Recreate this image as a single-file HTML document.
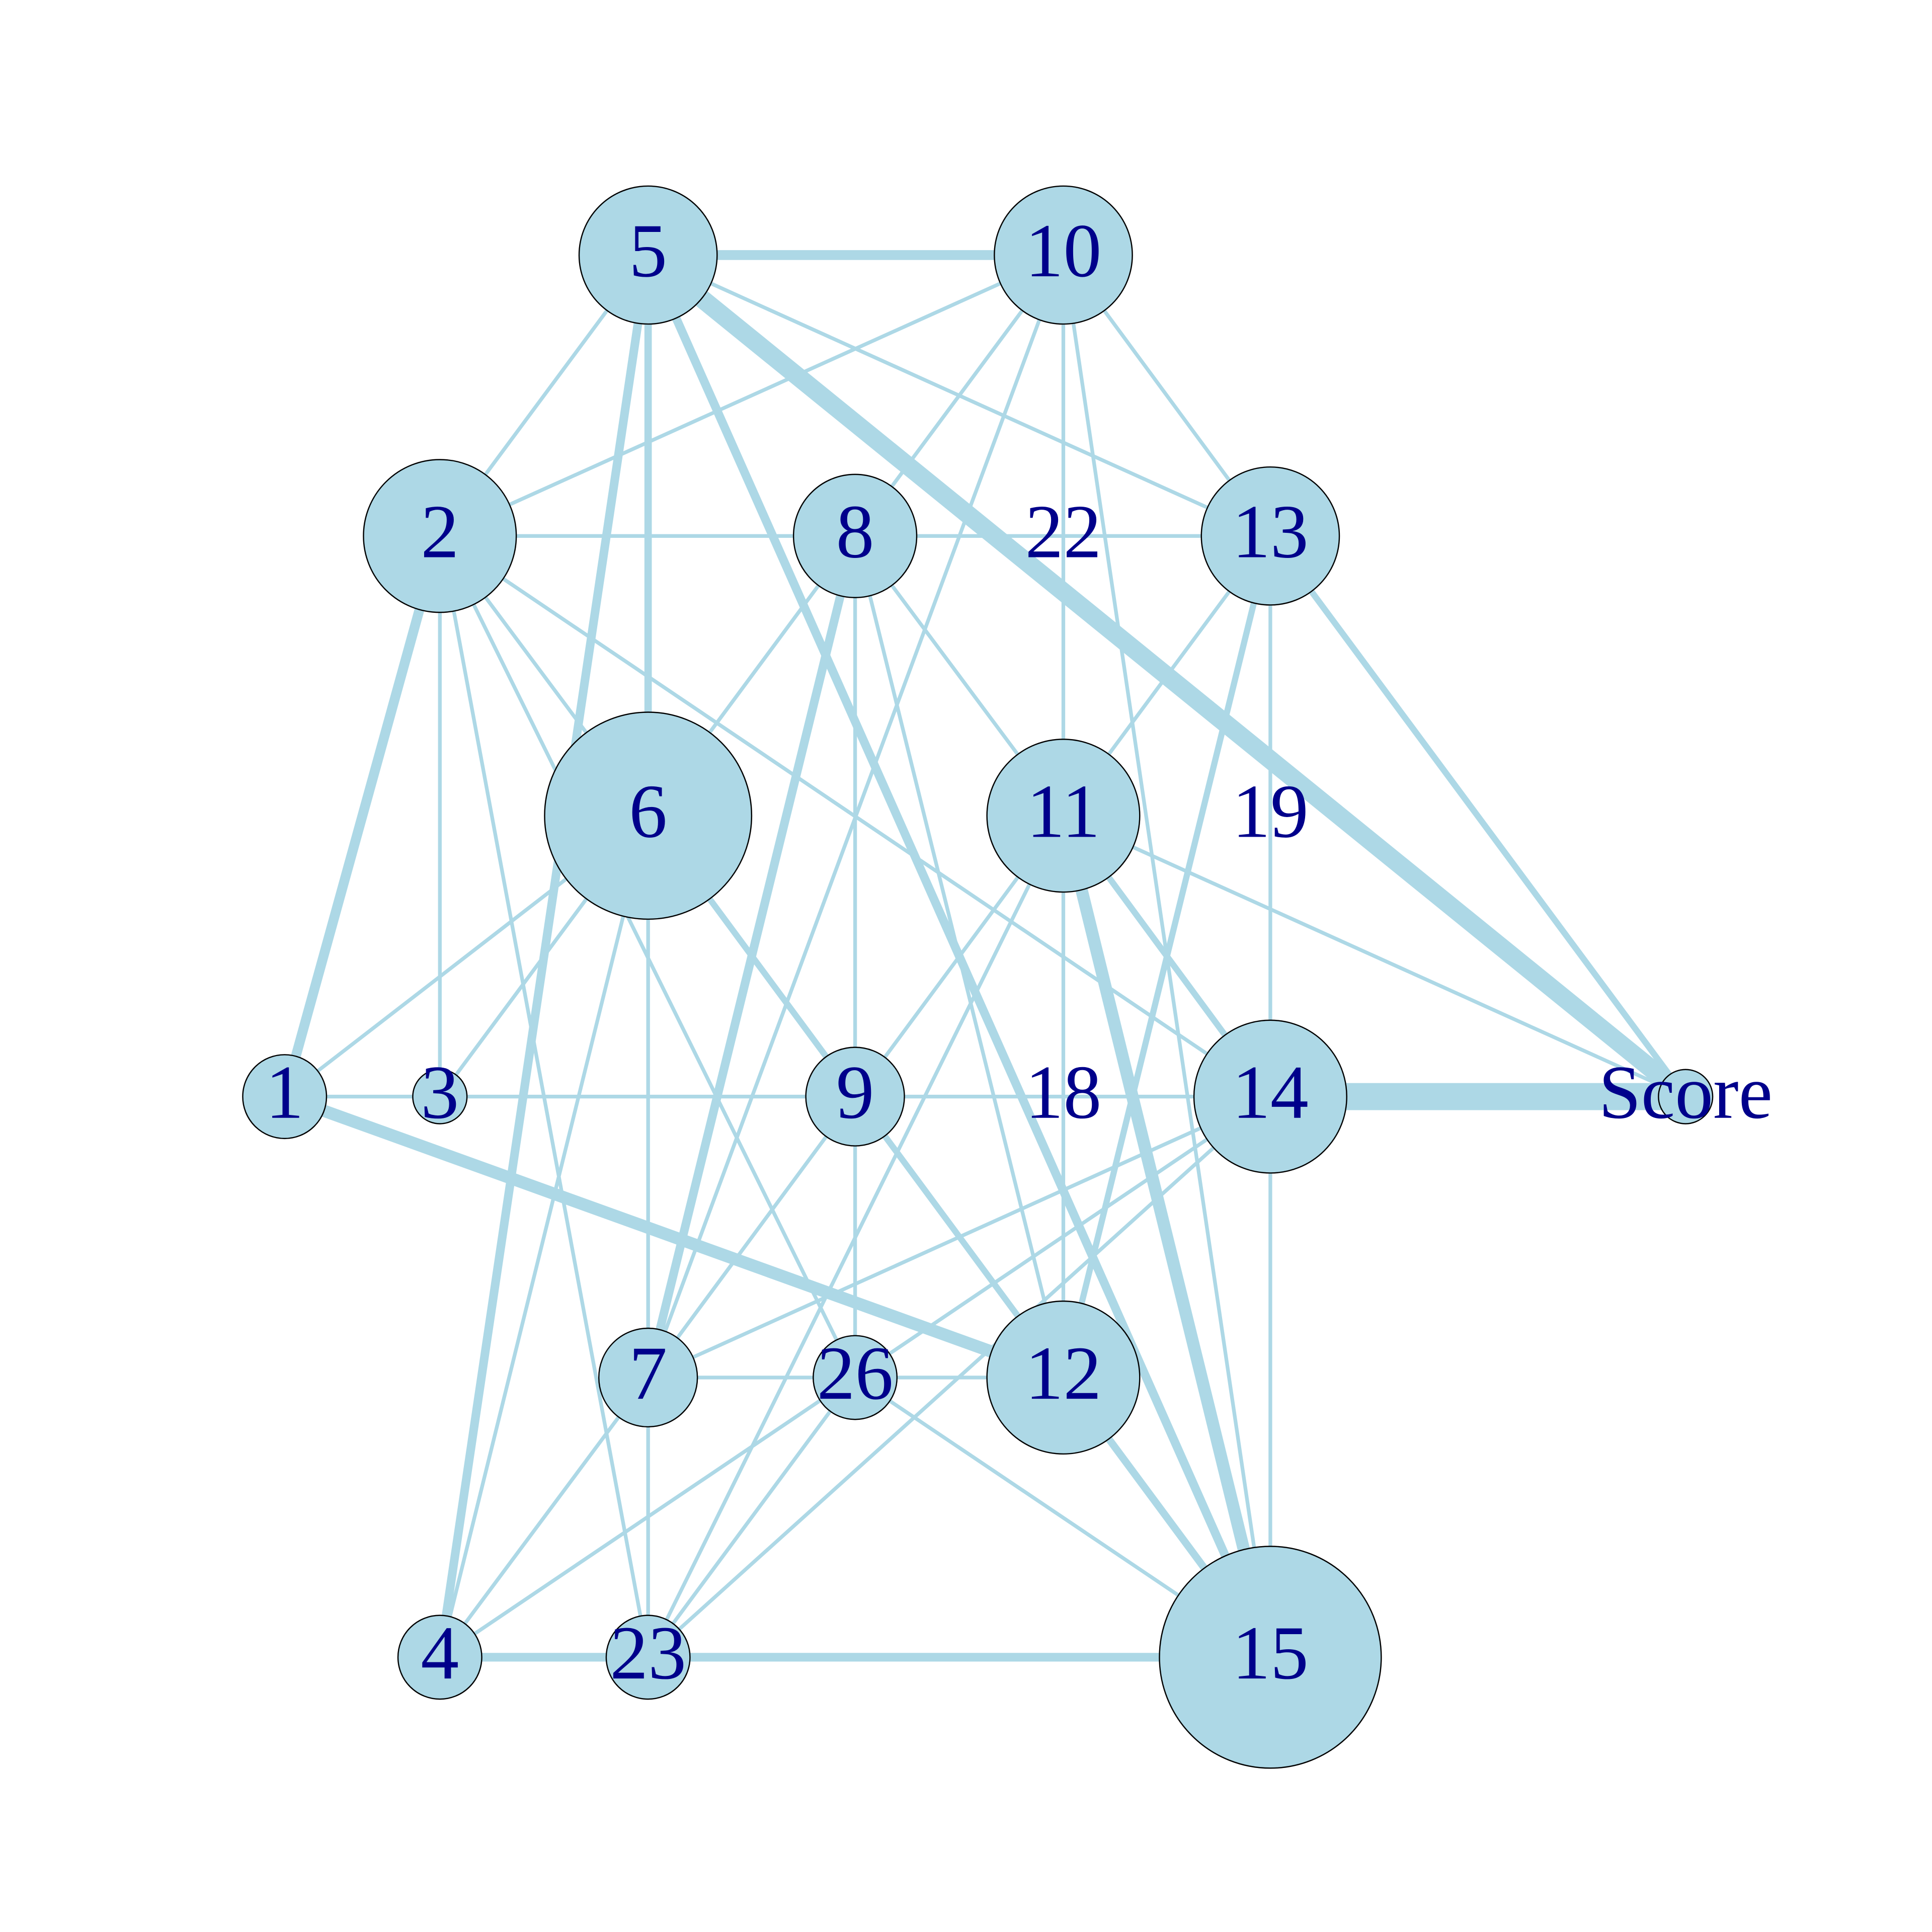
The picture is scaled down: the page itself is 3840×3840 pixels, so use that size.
<!DOCTYPE html>
<html><head><meta charset="utf-8"><style>
html,body{margin:0;padding:0;background:#fff;}
svg{display:block;}
text{font-family:"Liberation Serif",serif;fill:#00008B;text-anchor:middle;dominant-baseline:middle;}
</style></head><body>
<svg width="3840" height="3840" viewBox="0 0 1568 1568" xmlns="http://www.w3.org/2000/svg">
<g stroke="#ADD8E6" fill="none">
<line x1="526" y1="207" x2="863" y2="207" stroke-width="8"/>
<line x1="526" y1="207" x2="357" y2="435" stroke-width="3"/>
<line x1="526" y1="207" x2="526" y2="662" stroke-width="6"/>
<line x1="526" y1="207" x2="357" y2="1345" stroke-width="7"/>
<line x1="526" y1="207" x2="1031" y2="1345" stroke-width="7"/>
<line x1="526" y1="207" x2="1368" y2="890" stroke-width="15"/>
<line x1="526" y1="207" x2="1031" y2="435" stroke-width="3"/>
<line x1="863" y1="207" x2="357" y2="435" stroke-width="3"/>
<line x1="863" y1="207" x2="694" y2="435" stroke-width="3"/>
<line x1="863" y1="207" x2="863" y2="662" stroke-width="3"/>
<line x1="863" y1="207" x2="526" y2="1118" stroke-width="3"/>
<line x1="863" y1="207" x2="1031" y2="1345" stroke-width="3"/>
<line x1="863" y1="207" x2="1031" y2="435" stroke-width="3"/>
<line x1="357" y1="435" x2="1031" y2="435" stroke-width="3"/>
<line x1="357" y1="435" x2="526" y2="662" stroke-width="3"/>
<line x1="357" y1="435" x2="694" y2="1118" stroke-width="3"/>
<line x1="357" y1="435" x2="231" y2="890" stroke-width="8"/>
<line x1="357" y1="435" x2="357" y2="890" stroke-width="3"/>
<line x1="357" y1="435" x2="526" y2="1345" stroke-width="3"/>
<line x1="357" y1="435" x2="1031" y2="890" stroke-width="3"/>
<line x1="694" y1="435" x2="526" y2="662" stroke-width="3"/>
<line x1="694" y1="435" x2="526" y2="1118" stroke-width="7"/>
<line x1="694" y1="435" x2="694" y2="1118" stroke-width="3"/>
<line x1="694" y1="435" x2="863" y2="662" stroke-width="3"/>
<line x1="694" y1="435" x2="863" y2="1118" stroke-width="3"/>
<line x1="1031" y1="435" x2="863" y2="662" stroke-width="3"/>
<line x1="1031" y1="435" x2="863" y2="1118" stroke-width="5"/>
<line x1="1031" y1="435" x2="1031" y2="1345" stroke-width="3"/>
<line x1="1031" y1="435" x2="1368" y2="890" stroke-width="5"/>
<line x1="526" y1="662" x2="231" y2="890" stroke-width="3"/>
<line x1="526" y1="662" x2="357" y2="890" stroke-width="3"/>
<line x1="526" y1="662" x2="863" y2="1118" stroke-width="5"/>
<line x1="526" y1="662" x2="526" y2="1345" stroke-width="3"/>
<line x1="526" y1="662" x2="357" y2="1345" stroke-width="3"/>
<line x1="863" y1="662" x2="863" y2="1118" stroke-width="3"/>
<line x1="863" y1="662" x2="526" y2="1118" stroke-width="3"/>
<line x1="863" y1="662" x2="526" y2="1345" stroke-width="3"/>
<line x1="863" y1="662" x2="1031" y2="890" stroke-width="5"/>
<line x1="863" y1="662" x2="1031" y2="1345" stroke-width="10"/>
<line x1="863" y1="662" x2="1368" y2="890" stroke-width="3"/>
<line x1="231" y1="890" x2="1031" y2="890" stroke-width="3"/>
<line x1="231" y1="890" x2="863" y2="1118" stroke-width="10"/>
<line x1="1031" y1="890" x2="1368" y2="890" stroke-width="22"/>
<line x1="1031" y1="890" x2="526" y2="1118" stroke-width="3"/>
<line x1="1031" y1="890" x2="526" y2="1345" stroke-width="3"/>
<line x1="1031" y1="890" x2="357" y2="1345" stroke-width="3"/>
<line x1="526" y1="1118" x2="863" y2="1118" stroke-width="3"/>
<line x1="526" y1="1118" x2="357" y2="1345" stroke-width="3"/>
<line x1="694" y1="1118" x2="526" y2="1345" stroke-width="3"/>
<line x1="694" y1="1118" x2="1031" y2="1345" stroke-width="3"/>
<line x1="357" y1="1345" x2="1031" y2="1345" stroke-width="7"/>
<line x1="863" y1="1118" x2="1031" y2="1345" stroke-width="6"/>
</g>
<g fill="#ADD8E6" stroke="#000" stroke-width="1">
<circle cx="526" cy="207" r="56"/>
<circle cx="863" cy="207" r="56"/>
<circle cx="357" cy="435" r="62"/>
<circle cx="694" cy="435" r="50"/>
<circle cx="1031" cy="435" r="56"/>
<circle cx="526" cy="662" r="84"/>
<circle cx="863" cy="662" r="62"/>
<circle cx="231" cy="890" r="34"/>
<circle cx="357" cy="890" r="22"/>
<circle cx="694" cy="890" r="40"/>
<circle cx="1031" cy="890" r="62"/>
<circle cx="1368" cy="890" r="22"/>
<circle cx="526" cy="1118" r="40"/>
<circle cx="694" cy="1118" r="34"/>
<circle cx="863" cy="1118" r="62"/>
<circle cx="357" cy="1345" r="34"/>
<circle cx="526" cy="1345" r="34"/>
<circle cx="1031" cy="1345" r="90"/>
</g>
<g font-size="62">
<text x="526" y="210">5</text>
<text x="863" y="210">10</text>
<text x="357" y="438">2</text>
<text x="694" y="438">8</text>
<text x="863" y="438">22</text>
<text x="1031" y="438">13</text>
<text x="526" y="665">6</text>
<text x="863" y="665">11</text>
<text x="1031" y="665">19</text>
<text x="231" y="893">1</text>
<text x="357" y="893">3</text>
<text x="694" y="893">9</text>
<text x="863" y="893">18</text>
<text x="1031" y="893">14</text>
<text x="1368" y="893">Score</text>
<text x="526" y="1121">7</text>
<text x="694" y="1121">26</text>
<text x="863" y="1121">12</text>
<text x="357" y="1348">4</text>
<text x="526" y="1348">23</text>
<text x="1031" y="1348">15</text>
</g>
</svg>
</body></html>
